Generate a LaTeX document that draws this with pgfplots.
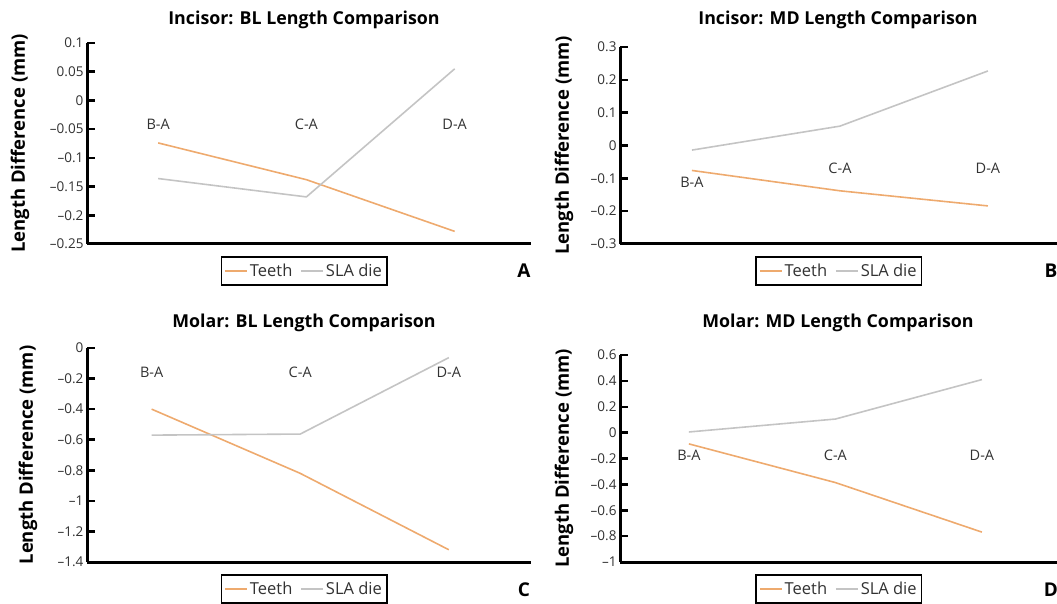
\documentclass[border=0pt]{standalone}
\usepackage{fontspec}
\setmainfont{Open Sans}
\setsansfont{Open Sans}
\usepackage{pgfplots}
\pgfplotsset{compat=1.18}

\definecolor{teethc}{RGB}{238,170,110}
\definecolor{slac}{RGB}{196,196,196}
\definecolor{txt}{RGB}{50,50,50}

\pgfplotsset{
  panel/.style={
    scale only axis, width=444pt,
    axis x line=bottom, axis y line=left,
    axis line style={-, line width=3pt, black},
    xtick=\empty,
    tick align=inside, major tick length=8pt,
    ytick style={line width=2.5pt, black},
    yticklabel style={font=\fontsize{13.5}{14}\selectfont, text=txt},
    ylabel={Length Difference (mm)},
    clip=false,
    legend columns=2,
    legend cell align=left,
    legend style={draw=black, line width=1.5pt, anchor=center,
      font=\fontsize{16.5}{16.5}\selectfont, text=txt,
      inner xsep=3pt, inner ysep=5pt,
      /tikz/every even column/.append style={column sep=6pt}},
    legend image code/.code={\draw[#1] (0pt,0pt) -- (22pt,0pt);},
  },
}
\tikzset{
  tline/.style={teethc, line width=1.6pt},
  sline/.style={slac, line width=1.6pt},
  cat/.style={font=\fontsize{14.5}{15}\selectfont, text=txt},
}
\newcommand{\ttl}{\bfseries\fontsize{17.8}{18}\selectfont}
\newcommand{\ylab}{\bfseries\fontsize{18.5}{19}\selectfont}

\begin{document}
\begin{tikzpicture}
\useasboundingbox (0,0) rectangle (1057pt,603pt);

% A: Incisor BL
\begin{axis}[panel, at={(87pt,359pt)}, anchor=south west, height=201pt,
    xmin=-0.48, xmax=2.515, ymin=-0.25, ymax=0.1,
    ytick={-0.25,-0.2,-0.15,-0.1,-0.05,0,0.05,0.1},
    yticklabels={–0.25,–0.2,–0.15,–0.1,–0.05,0,0.05,0.1},
    ylabel style={font=\ylab, at={(rel axis cs:-0.151,0.5)}, anchor=center},
    legend style={at={(0.489,-0.134)}}]
\addplot[tline] coordinates {(0,-0.074) (1,-0.138) (2,-0.228)};
\addplot[sline] coordinates {(0,-0.136) (1,-0.168) (2,0.055)};
\legend{Teeth, SLA die}
\node[cat] at (axis cs:0,-0.042) {B-A};
\node[cat] at (axis cs:1,-0.042) {C-A};
\node[cat] at (axis cs:2,-0.042) {D-A};
\end{axis}

% B: Incisor MD
\begin{axis}[panel, at={(620pt,359pt)}, anchor=south west, height=197pt,
    xmin=-0.486, xmax=2.514, ymin=-0.3, ymax=0.3,
    ytick={-0.3,-0.2,-0.1,0,0.1,0.2,0.3},
    yticklabels={–0.3,–0.2,–0.1,0,0.1,0.2,0.3},
    ylabel style={font=\ylab, at={(rel axis cs:-0.126,0.5)}, anchor=center},
    legend style={at={(0.493,-0.137)}}]
\addplot[tline] coordinates {(0,-0.076) (1,-0.138) (2,-0.184)};
\addplot[sline] coordinates {(0,-0.014) (1,0.059) (2,0.227)};
\legend{Teeth, SLA die}
\node[cat] at (axis cs:0,-0.113) {B-A};
\node[cat] at (axis cs:1,-0.069) {C-A};
\node[cat] at (axis cs:2,-0.069) {D-A};
\end{axis}

% C: Molar BL
\begin{axis}[panel, at={(87pt,41pt)}, anchor=south west, height=214pt,
    xmin=-0.435, xmax=2.553, ymin=-1.4, ymax=0,
    ytick={-1.4,-1.2,-1,-0.8,-0.6,-0.4,-0.2,0},
    yticklabels={–1.4,–1.2,–1,–0.8,–0.6,–0.4,–0.2,0},
    ylabel style={font=\ylab, at={(rel axis cs:-0.133,0.5)}, anchor=center},
    legend style={at={(0.489,-0.126)}}]
\addplot[tline] coordinates {(0,-0.40) (1,-0.82) (2,-1.32)};
\addplot[sline] coordinates {(0,-0.57) (1,-0.563) (2,-0.063)};
\legend{Teeth, SLA die}
\node[cat] at (axis cs:0,-0.157) {B-A};
\node[cat] at (axis cs:1,-0.157) {C-A};
\node[cat] at (axis cs:2,-0.157) {D-A};
\end{axis}

% D: Molar MD
\begin{axis}[panel, at={(620pt,41pt)}, anchor=south west, height=207pt,
    xmin=-0.47, xmax=2.56, ymin=-1, ymax=0.6,
    ytick={-1,-0.8,-0.6,-0.4,-0.2,0,0.2,0.4,0.6},
    yticklabels={–1,–0.8,–0.6,–0.4,–0.2,0,0.2,0.4,0.6},
    ylabel style={font=\ylab, at={(rel axis cs:-0.126,0.5)}, anchor=center},
    legend style={at={(0.493,-0.130)}}]
\addplot[tline] coordinates {(0,-0.087) (1,-0.386) (2,-0.769)};
\addplot[sline] coordinates {(0,0.005) (1,0.105) (2,0.41)};
\legend{Teeth, SLA die}
\node[cat] at (axis cs:0,-0.177) {B-A};
\node[cat] at (axis cs:1,-0.177) {C-A};
\node[cat] at (axis cs:2,-0.177) {D-A};
\end{axis}

% titles and panel letters
\node[font=\ttl] at (304pt,583pt) {Incisor: BL Length Comparison};
\node[font=\ttl] at (838pt,583pt) {Incisor: MD Length Comparison};
\node[font=\ttl] at (304pt,280pt) {Molar: BL Length Comparison};
\node[font=\ttl] at (838pt,280pt) {Molar: MD Length Comparison};
\node[font=\bfseries\fontsize{19}{19}\selectfont] at (524pt,332pt) {A};
\node[font=\bfseries\fontsize{19}{19}\selectfont] at (1051pt,332pt) {B};
\node[font=\bfseries\fontsize{19}{19}\selectfont] at (524pt,13pt) {C};
\node[font=\bfseries\fontsize{19}{19}\selectfont] at (1051pt,13pt) {D};
\end{tikzpicture}
\end{document}
